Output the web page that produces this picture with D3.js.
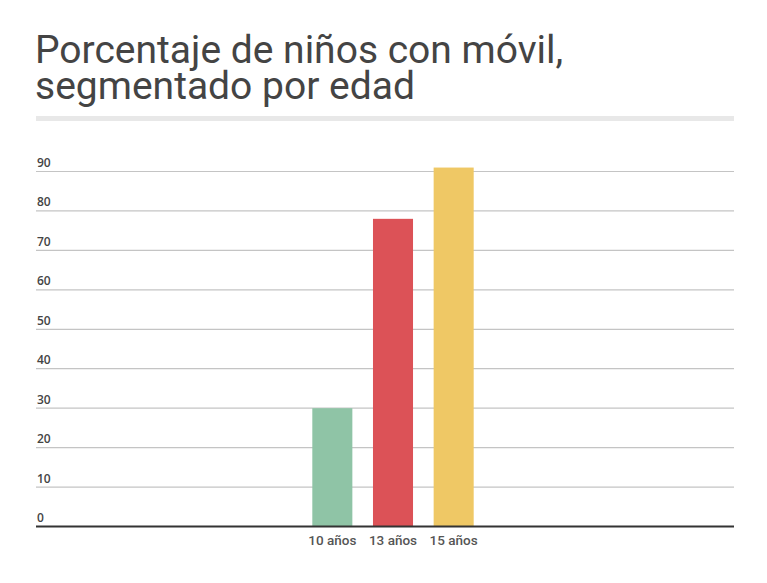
<!DOCTYPE html>
<html>
<head>
<meta charset="utf-8">
<script src="https://cdn.jsdelivr.net/npm/d3@7"></script>
<style>
  body { margin: 0; background: #fff; }
  svg { display: block; font-family: Roboto, "Noto Sans", sans-serif; }
</style>
</head>
<body>
<svg id="chart" width="767" height="583"></svg>
<script>
// data
let categories = ["10 años", "13 años", "15 años"];
let values = [30, 78, 91];
let colors = ["#8fc4a6", "#dc5257", "#efc865"];
let ticks = [0, 10, 20, 30, 40, 50, 60, 70, 80, 90];
let titleLines = ["Porcentaje de niños con móvil,", "segmentado por edad"];

let svg = d3.select("#chart");

let plot = {left: 36, right: 734, top: 171.5, bottom: 526.5};

// title
svg.selectAll(".title")
    .data(titleLines)
    .enter()
    .append("text")
    .attr("class", "title")
    .attr("x", 35)
    .attr("y", (d, i) => 63 + i * 36)
    .style("font-size", "39px")
    .style("fill", "#444")
    .text(d => d);

// grey band under the title
svg.append("rect")
    .attr("x", 36)
    .attr("y", 116)
    .attr("width", plot.right - 36)
    .attr("height", 5)
    .style("fill", "#e8e8e8");

// scales
let y = d3.scaleLinear()
    .domain([0, 90])
    .range([plot.bottom, plot.top]);

let x = d3.scaleBand()
    .domain(categories)
    .range([302, 484])
    .paddingInner(0.34)
    .paddingOuter(0.17);

// grid lines
svg.selectAll(".grid")
    .data(ticks.slice(1))
    .enter()
    .append("line")
    .attr("class", "grid")
    .attr("x1", plot.left)
    .attr("x2", plot.right)
    .attr("y1", d => y(d))
    .attr("y2", d => y(d))
    .style("stroke", "#c4c4c4")
    .style("stroke-width", 1.2);

// tick labels
svg.selectAll(".tick")
    .data(ticks)
    .enter()
    .append("text")
    .attr("class", "tick")
    .attr("x", 37)
    .attr("y", d => y(d) - 4.5)
    .style("font-family", "'Open Sans', sans-serif")
    .style("font-size", "12px")
    .style("font-weight", "600")
    .style("fill", "#444")
    .text(d => d);

// bars
svg.selectAll(".bar")
    .data(values)
    .enter()
    .append("rect")
    .attr("class", "bar")
    .attr("x", (d, i) => x(categories[i]))
    .attr("width", x.bandwidth())
    .attr("y", d => y(d))
    .attr("height", d => y(0) - y(d))
    .style("fill", (d, i) => colors[i]);

// baseline
svg.append("line")
    .attr("x1", plot.left)
    .attr("x2", plot.right)
    .attr("y1", y(0))
    .attr("y2", y(0))
    .style("stroke", "#333")
    .style("stroke-width", 2);

// category labels
svg.selectAll(".cat")
    .data(categories)
    .enter()
    .append("text")
    .attr("class", "cat")
    .attr("x", d => x(d) + x.bandwidth() / 2)
    .attr("y", 545)
    .attr("text-anchor", "middle")
    .style("font-size", "13.5px")
    .style("font-weight", "500")
    .style("fill", "#555")
    .text(d => d);
</script>
</body>
</html>
